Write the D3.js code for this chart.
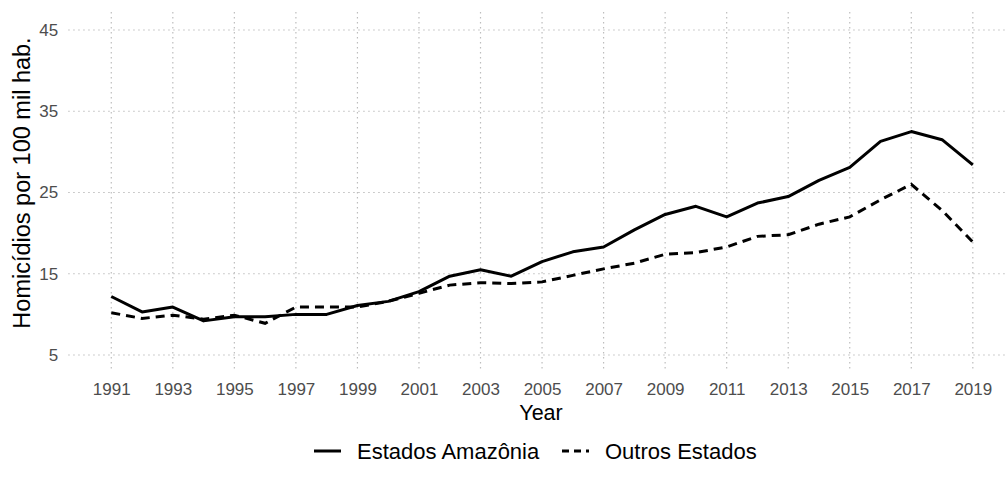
<!DOCTYPE html>
<html>
<head>
<meta charset="utf-8">
<script src="https://cdnjs.cloudflare.com/ajax/libs/d3/7.8.5/d3.min.js"></script>
<style>
  html, body { margin: 0; padding: 0; background: #fff; }
  svg { display: block; font-family: "Liberation Sans", Arial, sans-serif; }
</style>
</head>
<body>
<svg id="chart" width="1007" height="488"></svg>
<script>
const years = d3.range(1991, 2020);
const amazonia = [12.2, 10.3, 10.9, 9.2, 9.7, 9.7, 10.0, 10.0, 11.1, 11.6, 12.8, 14.7, 15.5, 14.7, 16.5, 17.7, 18.3, 20.4, 22.3, 23.3, 22.0, 23.7, 24.5, 26.5, 28.1, 31.3, 32.5, 31.5, 28.4];
const outros   = [10.2, 9.5, 9.9, 9.4, 9.9, 8.9, 10.9, 10.9, 10.9, 11.6, 12.6, 13.6, 13.9, 13.8, 14.0, 14.8, 15.6, 16.3, 17.4, 17.6, 18.3, 19.6, 19.8, 21.1, 22.0, 24.1, 26.0, 22.8, 18.9];
const yTicks = [5, 15, 25, 35, 45];
const xTicks = d3.range(1991, 2020, 2);
const seriesNames = ["Estados Amazônia", "Outros Estados"];

const svg = d3.select("#chart");
const x = d3.scaleLinear().domain([1989.6, 2020.4]).range([68.2, 1015.9]);
const y = d3.scaleLinear().domain([5, 45]).range([355, 30]);
const panelTop = 12, panelBottom = 372;

// grid
const gridColor = "#bdbdbd";
svg.append("g").selectAll("line").data(yTicks).join("line")
  .attr("x1", x.range()[0]).attr("x2", x.range()[1])
  .attr("y1", d => y(d)).attr("y2", d => y(d))
  .attr("stroke", gridColor).attr("stroke-width", 1.2).attr("stroke-dasharray", "1.5,3.5");
svg.append("g").selectAll("line").data(xTicks).join("line")
  .attr("x1", d => x(d)).attr("x2", d => x(d))
  .attr("y1", panelTop).attr("y2", panelBottom)
  .attr("stroke", gridColor).attr("stroke-width", 1.2).attr("stroke-dasharray", "1.5,3.5");

// axes labels
const xAxis = d3.axisBottom(x).tickValues(xTicks).tickFormat(d3.format("d")).tickSize(0).tickPadding(0);
const gx = svg.append("g").attr("transform", `translate(0,383)`).call(xAxis);
gx.select(".domain").remove();
gx.selectAll("text").attr("fill", "#4d4d4d").attr("font-size", 17).attr("dy", "0.71em")
  .style("font-family", "Liberation Sans, Arial, sans-serif");

const yAxis = d3.axisLeft(y).tickValues(yTicks).tickSize(0).tickPadding(0);
const gy = svg.append("g").attr("transform", `translate(${x.range()[0] - 10},0)`).call(yAxis);
gy.select(".domain").remove();
gy.selectAll("text").attr("fill", "#4d4d4d").attr("font-size", 17)
  .style("font-family", "Liberation Sans, Arial, sans-serif");

// titles
svg.append("text").attr("x", 541).attr("y", 420).attr("text-anchor", "middle")
  .attr("font-size", 21.5).attr("fill", "#000").text("Year");
svg.append("text").attr("transform", `translate(30,${(panelTop + panelBottom) / 2 - 9}) rotate(-90)`)
  .attr("text-anchor", "middle").attr("font-size", 23.5).attr("fill", "#000")
  .text("Homicídios por 100 mil hab.");

// lines
const line = d3.line().x((d, i) => x(years[i])).y(d => y(d));
svg.append("path").datum(amazonia).attr("d", line)
  .attr("fill", "none").attr("stroke", "#000").attr("stroke-width", 3).attr("stroke-linejoin", "round");
svg.append("path").datum(outros).attr("d", line)
  .attr("fill", "none").attr("stroke", "#000").attr("stroke-width", 3).attr("stroke-dasharray", "9,6");

// legend
const legY = 451;
const leg = svg.append("g");
const keys = [{name: seriesNames[0], dash: null, kx: 314, tx: 357}, {name: seriesNames[1], dash: "7,5", kx: 562, tx: 605}];
keys.forEach(k => {
  leg.append("line").attr("x1", k.kx).attr("x2", k.kx + 27).attr("y1", legY).attr("y2", legY)
    .attr("stroke", "#000").attr("stroke-width", 3).attr("stroke-dasharray", k.dash);
  leg.append("text").attr("x", k.tx).attr("y", legY).attr("dy", "0.35em")
    .attr("font-size", 22).attr("fill", "#000").text(k.name);
});
</script>
</body>
</html>
